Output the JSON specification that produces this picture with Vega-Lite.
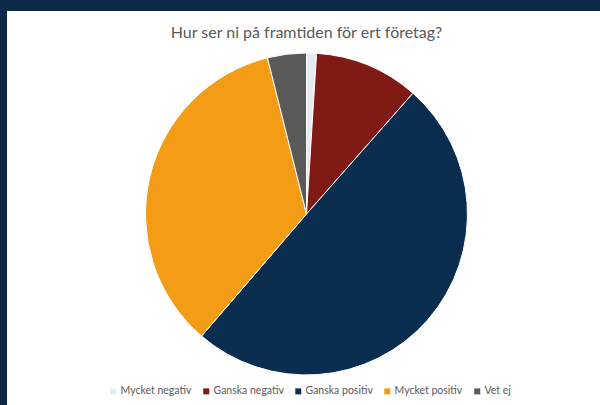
{
  "$schema": "https://vega.github.io/schema/vega-lite/v6.json",
  "autosize": {"type": "none"},
  "width": 599,
  "height": 406,
  "padding": {"left": 7, "top": 11, "right": 0, "bottom": 0},
  "background": "#0c2a47",
  "view": {"fill": "#ffffff", "stroke": null},
  "title": {
    "text": "Hur ser ni på framtiden för ert företag?",
    "orient": "top",
    "anchor": "middle",
    "offset": -30,
    "font": "Lato",
    "fontSize": 16,
    "fontWeight": "normal",
    "color": "#595959"
  },
  "data": {
    "values": [
      {"svar": "Mycket negativ", "andel": 1.0, "ord": 1},
      {"svar": "Ganska negativ", "andel": 10.5, "ord": 2},
      {"svar": "Ganska positiv", "andel": 49.8, "ord": 3},
      {"svar": "Mycket positiv", "andel": 34.8, "ord": 4},
      {"svar": "Vet ej", "andel": 3.9, "ord": 5}
    ]
  },
  "mark": {"type": "arc", "radius": 161, "stroke": "#ffffff", "strokeWidth": 1},
  "encoding": {
    "theta": {"field": "andel", "type": "quantitative", "stack": true},
    "order": {"field": "ord", "type": "quantitative"},
    "color": {
      "field": "svar",
      "type": "nominal",
      "scale": {
        "domain": ["Mycket negativ", "Ganska negativ", "Ganska positiv", "Mycket positiv", "Vet ej"],
        "range": ["#e6ebf2", "#7f1a14", "#0b2d4f", "#f59c17", "#595959"]
      },
      "legend": {
        "title": null,
        "orient": "none",
        "legendX": 101,
        "legendY": 375,
        "direction": "horizontal",
        "symbolType": "square",
        "symbolSize": 36,
        "symbolStrokeWidth": 0,
        "labelFont": "Lato",
        "labelFontSize": 10.5,
        "labelColor": "#595959",
        "columnPadding": 9,
        "labelOffset": 2
      }
    }
  }
}
